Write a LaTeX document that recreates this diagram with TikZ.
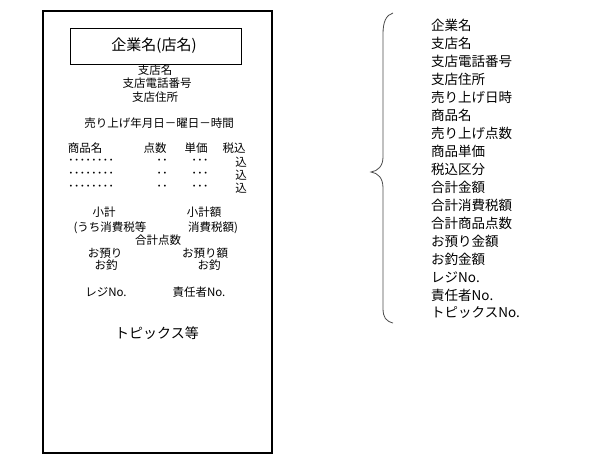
\documentclass[tikz,border=0pt]{standalone}
\usepackage{fontspec}
\setmainfont{Noto Sans CJK JP}
\newcommand{\fsmall}{\fontsize{11.5}{13}\selectfont}
\newcommand{\fbig}{\fontsize{14}{16}\selectfont}
\newcommand{\flist}{\fontsize{13.5}{15}\selectfont}

\begin{document}
\begin{tikzpicture}[x=1pt,y=-1pt,
    txt/.style={inner sep=0pt, font=\fsmall},
    bigtxt/.style={inner sep=0pt, font=\fbig},
    listtxt/.style={inner sep=0pt, anchor=west, font=\flist}]
        \useasboundingbox (0,0) rectangle (593,469);

        % Draw the receipt
        \draw[line width=1.3pt] (43,11) rectangle (272,453);
        \draw[line width=0.9pt] (70,28) rectangle (241,64);
        \node[bigtxt, font=\fontsize{15}{17}\selectfont] (shop) at (154,46) {企業名(店名)};

        % Branch data
        \node[txt] (branch) at (155,70) {支店名};
        \node[txt] (tel) at (157,83) {支店電話番号};
        \node[txt] (addr) at (155,97) {支店住所};
        \node[txt] (date) at (159,123) {売り上げ年月日－曜日－時間};

        % Item table
        \node[txt] (hname) at (85,148) {商品名};
        \node[txt] (hqty) at (155,148) {点数};
        \node[txt] (hprice) at (196,148) {単価};
        \node[txt] (htax) at (234,148) {税込};
        \foreach \y [count=\i] in {162,175,188} {
            \node[txt] (name\i) at (91,\y) {････････};
            \node[txt] (qty\i) at (162,\y) {･･};
            \node[txt] (price\i) at (200,\y) {･･･};
            \node[txt] (tax\i) at (241,\y) {込};
        }

        % Totals
        \node[txt] (sub) at (104,212) {小計};
        \node[txt] (subsum) at (204,212) {小計額};
        \node[txt] (taxin) at (110,228) {(うち消費税等};
        \node[txt] (taxsum) at (213,228) {消費税額)};
        \node[txt] (total) at (158,240) {合計点数};
        \node[txt] (paid) at (105,253) {お預り};
        \node[txt] (change) at (106,265) {お釣};
        \node[txt] (paidsum) at (205,253) {お預り額};
        \node[txt] (changesum) at (209,265) {お釣};
        \node[txt] (reg) at (106,292) {レジNo.};
        \node[txt] (staff) at (199,292) {責任者No.};
        \node[bigtxt] (topics) at (157,333) {トピックス等};

        % Brace
        \draw[black!70, line width=0.8pt] (393,13) .. controls (386,15) and (383,22) .. (383,34)
            -- (383,157) .. controls (383,166) and (378,171) .. (371,172)
            .. controls (378,173) and (383,178) .. (383,188)
            -- (383,308) .. controls (383,318) and (386,321) .. (393,323);

        % Item list
        \foreach \t [count=\i from 0] in {企業名,支店名,支店電話番号,支店住所,売り上げ日時,商品名,
            売り上げ点数,商品単価,税込区分,合計金額,合計消費税額,合計商品点数,お預り金額,
            お釣金額,レジNo.,責任者No.,トピックスNo.} {
            \node[listtxt] (list\i) at (431,25+18*\i) {\t};
        }
    \end{tikzpicture}
\end{document}
